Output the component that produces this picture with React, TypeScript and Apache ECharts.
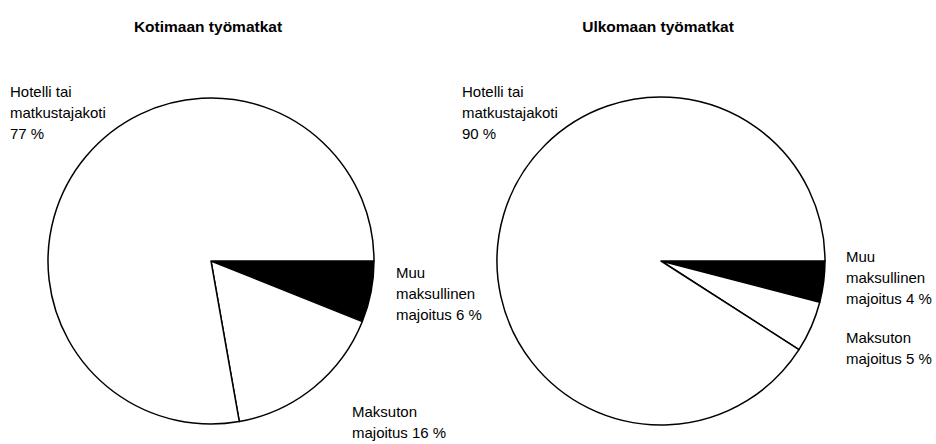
import React, { useEffect, useRef } from "react";
import * as echarts from "echarts";

const chartTitles = ["Kotimaan työmatkat", "Ulkomaan työmatkat"];
const categories = ["Muu\nmaksullinen\nmajoitus", "Maksuton\nmajoitus", "Hotelli tai\nmatkustajakoti"];
const domesticValues = [6, 16, 77];
const abroadValues = [4, 5, 90];
const sliceColors = ["#000000", "#ffffff", "#ffffff"];

const FONT = '"Liberation Sans", Arial, sans-serif';

const domesticLabelPos = [
  { x: 396, y: 262 },
  { x: 352, y: 401 },
  { x: 10, y: 81 },
];
const abroadLabelPos = [
  { x: 846, y: 246 },
  { x: 846, y: 327 },
  { x: 462, y: 81 },
];

function makeSeries(values: number[], center: [number, number], radius: number, pos: { x: number; y: number }[]) {
  return {
    type: "pie",
    center,
    radius,
    startAngle: 0,
    clockwise: true,
    avoidLabelOverlap: false,
    silent: true,
    data: values.map((v, i) => ({
      name: categories[i],
      value: v,
      itemStyle: { color: sliceColors[i], borderColor: "#000", borderWidth: 1.5 },
    })),
    label: {
      show: true,
      position: "outside",
      color: "#000",
      fontFamily: FONT,
      fontSize: 15,
      lineHeight: 21,
      align: "left",
      formatter: (p: any) =>
        p.dataIndex === 2 ? `${p.name}\n${p.value} %` : `${p.name} ${p.value} %`,
    },
    labelLine: { show: false },
    labelLayout: (p: any) => ({
      x: pos[p.dataIndex].x,
      y: pos[p.dataIndex].y,
      align: "left",
      verticalAlign: "top",
    }),
  };
}

export default function App() {
  const ref = useRef<HTMLDivElement>(null);
  useEffect(() => {
    document.body.style.margin = "0";
    const chart = echarts.init(ref.current!, null, { renderer: "svg" });
    chart.setOption({
      animation: false,
      backgroundColor: "#ffffff",
      title: [
        {
          text: chartTitles[0],
          left: 208,
          top: 18,
          textAlign: "center",
          padding: 0,
          textStyle: { fontFamily: FONT, fontSize: 15.5, fontWeight: "bold", color: "#000" },
        },
        {
          text: chartTitles[1],
          left: 658,
          top: 18,
          textAlign: "center",
          padding: 0,
          textStyle: { fontFamily: FONT, fontSize: 15.5, fontWeight: "bold", color: "#000" },
        },
      ],
      series: [
        makeSeries(domesticValues, [211, 261], 163, domesticLabelPos),
        makeSeries(abroadValues, [661, 261], 164, abroadLabelPos),
      ],
    });
    return () => chart.dispose();
  }, []);
  return <div ref={ref} style={{ width: 936, height: 444 }} />;
}
